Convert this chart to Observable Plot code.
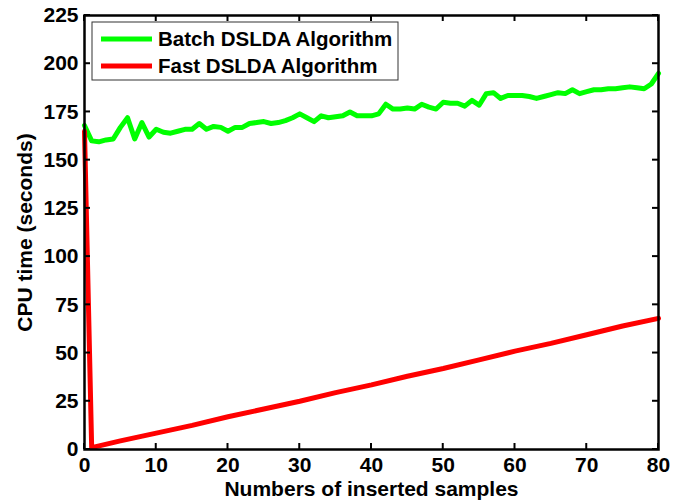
<!DOCTYPE html>
<html>
<head>
<meta charset="utf-8">
<script src="https://cdn.jsdelivr.net/npm/d3@7"></script>
<script src="https://cdn.jsdelivr.net/npm/@observablehq/plot@0.6"></script>
<style>
  html, body { margin: 0; padding: 0; background: #fff; }
</style>
</head>
<body>
<div id="chart"></div>
<script>
// ---- data ----
const batchX = d3.range(0, 81);
const batchY = [168, 160, 159.5, 160.5, 161, 167, 172, 161, 169.5, 162,
  166, 164.5, 164, 165, 166, 166, 169, 166, 167.5, 167,
  165, 167, 167, 169, 169.5, 170, 169, 169.5, 170.5, 172,
  174, 172, 170, 173, 172, 172.5, 173, 175, 173, 173,
  173, 174, 179, 176.5, 176.5, 177, 176.5, 179, 177.5, 176.5,
  180, 179.5, 179.5, 178, 181, 178.5, 184.5, 185, 182, 183.5,
  183.5, 183.5, 183, 182, 183, 184, 185, 184.5, 186.5, 184.5,
  185.5, 186.5, 186.5, 187, 187, 187.5, 188, 187.5, 187, 189.5, 195];
const fastX = [0, 1, 5, 10, 15, 20, 25, 30, 35, 40, 45, 50, 55, 60, 65, 70, 75, 80];
const fastY = [165, 1, 4.5, 8.5, 12.5, 17, 21, 25, 29.5, 33.5, 38, 42, 46.5, 51, 55, 59.5, 64, 68];
const xTicks = [0, 10, 20, 30, 40, 50, 60, 70, 80];
const yTicks = [0, 25, 50, 75, 100, 125, 150, 175, 200, 225];
const seriesNames = ["Batch DSLDA Algorithm", "Fast DSLDA Algorithm"];
const seriesColors = ["#00ff00", "#ff0000"];
const xLabel = "Numbers of inserted samples";
const yLabel = "CPU time (seconds)";

const batch = batchX.map((x, i) => ({x, y: batchY[i]}));
const fast = fastX.map((x, i) => ({x, y: fastY[i]}));

const W = 694, H = 504;
const mL = 84, mR = 36, mT = 15, mB = 55;
const tickLen = 6;
const FONT = "'Liberation Sans', Arial, sans-serif";

const chart = Plot.plot({
  width: W, height: H,
  marginLeft: mL, marginRight: mR, marginTop: mT, marginBottom: mB,
  style: {fontFamily: FONT, fontWeight: "bold", fontSize: "20px", color: "#000", background: "#fff"},
  x: {domain: [0, 80]},
  y: {domain: [0, 225]},
  marks: [
    Plot.axisX(xTicks, {tickSize: 0, tickPadding: 8, label: xLabel, labelAnchor: "center", labelOffset: 46, labelArrow: false, fontSize: 21}),
    Plot.axisY(yTicks, {tickSize: 0, tickPadding: 6, label: yLabel, labelAnchor: "center", labelOffset: 67, labelArrow: false, fontSize: 21}),
    Plot.line(batch, {x: "x", y: "y", stroke: seriesColors[0], strokeWidth: 5, strokeLinejoin: "round"}),
    Plot.line(fast, {x: "x", y: "y", stroke: seriesColors[1], strokeWidth: 5, strokeLinejoin: "round"}),
    Plot.frame({stroke: "#000", strokeWidth: 2.5})
  ]
});
document.getElementById("chart").appendChild(chart);

// inward ticks on all four sides (MATLAB style), placed with Plot's scales
const sx = chart.scale("x"), sy = chart.scale("y");
const svg = d3.select(chart);
const tg = svg.append("g").attr("stroke", "#000").attr("stroke-width", 2);
const [x0, x1] = sx.range, [y0, y1] = sy.range; // y0 bottom, y1 top
xTicks.forEach(t => {
  const px = sx.apply(t);
  tg.append("line").attr("x1", px).attr("x2", px).attr("y1", y0).attr("y2", y0 - tickLen);
  tg.append("line").attr("x1", px).attr("x2", px).attr("y1", y1).attr("y2", y1 + tickLen);
});
yTicks.forEach(t => {
  const py = sy.apply(t);
  tg.append("line").attr("x1", x0).attr("x2", x0 + tickLen).attr("y1", py).attr("y2", py);
  tg.append("line").attr("x1", x1).attr("x2", x1 - tickLen).attr("y1", py).attr("y2", py);
});

// legend inside the plot area (top-left), like the MATLAB original
const lg = svg.append("g").attr("transform", `translate(${mL + 8},${mT + 7})`);
lg.append("rect").attr("x", 0).attr("y", 0).attr("width", 306).attr("height", 58)
  .attr("fill", "#fff").attr("stroke", "#333").attr("stroke-width", 1);
seriesNames.forEach((name, i) => {
  const cy = 17 + i * 27;
  lg.append("line").attr("x1", 9).attr("x2", 60).attr("y1", cy).attr("y2", cy)
    .attr("stroke", seriesColors[i]).attr("stroke-width", 5);
  lg.append("text").attr("x", 66).attr("y", cy + 7).text(name)
    .attr("text-anchor", "start")
    .attr("font-family", FONT).attr("font-weight", "bold")
    .attr("font-size", 20.5).attr("fill", "#000");
});
</script>
</body>
</html>
